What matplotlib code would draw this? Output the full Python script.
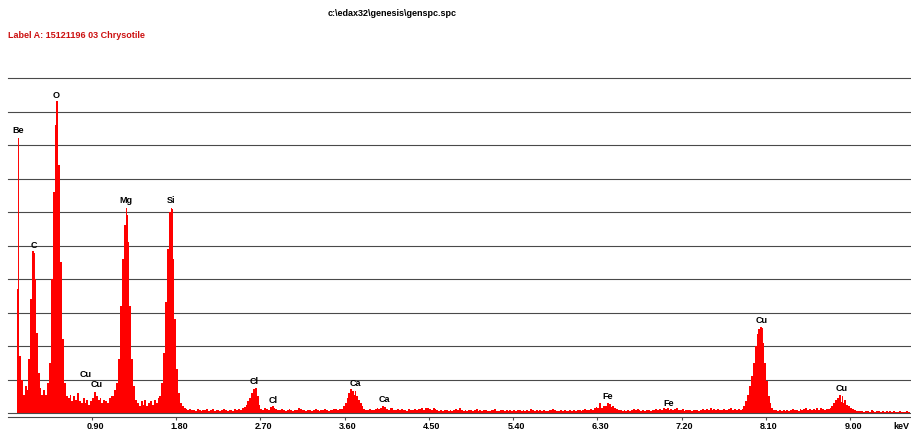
import numpy as np
from matplotlib import pyplot as plt
from matplotlib.transforms import ScaledTranslation

# spectrum counts, 0.02 keV channels starting at 0.10 keV (grid units)
start_kev = 0.10
channel_kev = 0.02

be_c_o = [3.7, 1.7, 1.0, 0.55, 0.8, 0.7, 1.6, 3.4, 4.85, 4.0,
          2.4, 1.2, 0.75, 0.55, 0.7, 0.55, 0.9, 1.5, 4.0, 6.6,
          8.6, 9.3, 7.4, 4.5, 2.2, 0.9, 0.5]
cu_l = [0.45, 0.55, 0.35, 0.5, 0.4, 0.6, 0.35, 0.3, 0.45, 0.3,
        0.4, 0.25, 0.35, 0.45, 0.62, 0.5, 0.4, 0.45, 0.3, 0.4,
        0.35, 0.3, 0.45, 0.5]
mg = [0.5, 0.7, 0.9, 1.6, 3.2, 4.6, 5.6, 5.9, 5.1, 3.2, 1.6, 0.8, 0.4]
mg_si_gap = [0.3, 0.2, 0.35, 0.25, 0.4, 0.2, 0.3, 0.35, 0.25, 0.4, 0.3, 0.45]
si = [0.5, 0.9, 1.8, 3.3, 4.9, 6.0, 6.1, 4.6, 2.8, 1.3, 0.6, 0.3, 0.2]
bg_si_cl = [0.15, 0.12, 0.1, 0.13, 0.08, 0.1, 0.07, 0.12, 0.09, 0.06,
            0.1, 0.08, 0.12, 0.07, 0.09, 0.11, 0.06, 0.08, 0.1, 0.07,
            0.09, 0.12, 0.08, 0.06, 0.1, 0.09, 0.07, 0.11, 0.08, 0.12,
            0.1, 0.14, 0.18]
cl = [0.25, 0.35, 0.45, 0.6, 0.72, 0.76, 0.5, 0.25, 0.12]
bg_cl_ca = [0.1, 0.14, 0.12, 0.09, 0.18, 0.2, 0.15, 0.12, 0.1, 0.08,
            0.12, 0.1, 0.07, 0.09, 0.11, 0.08, 0.06, 0.1, 0.09, 0.16,
            0.12, 0.1, 0.08, 0.07, 0.1, 0.09, 0.06, 0.08, 0.11, 0.09,
            0.07, 0.1, 0.08, 0.12, 0.09, 0.07, 0.1, 0.08, 0.11, 0.13,
            0.1, 0.12]
ca = [0.12, 0.2, 0.3, 0.45, 0.6, 0.72, 0.65, 0.55, 0.5, 0.4, 0.3, 0.2, 0.12]
bg_ca_fe = [0.1, 0.08, 0.12, 0.1, 0.09, 0.11, 0.14, 0.12, 0.15, 0.2,
            0.18, 0.12, 0.1, 0.14, 0.16, 0.1, 0.08, 0.11, 0.09, 0.12,
            0.08, 0.1, 0.07, 0.12, 0.09, 0.08, 0.11, 0.1, 0.13, 0.12,
            0.15, 0.1, 0.14, 0.16, 0.12, 0.09, 0.15, 0.11, 0.08, 0.07,
            0.09, 0.06, 0.08, 0.1, 0.07, 0.09, 0.06, 0.08, 0.11, 0.09,
            0.14, 0.1, 0.07, 0.08, 0.06, 0.09, 0.1, 0.07, 0.08, 0.11,
            0.07, 0.09, 0.06, 0.08, 0.1, 0.06, 0.07, 0.09, 0.08, 0.12,
            0.07, 0.06, 0.09, 0.08, 0.07, 0.1, 0.06, 0.08, 0.07, 0.09,
            0.06, 0.08, 0.1, 0.07, 0.09, 0.06, 0.08, 0.07, 0.11, 0.08,
            0.06, 0.09, 0.07, 0.08, 0.06, 0.1, 0.07, 0.06, 0.08, 0.09,
            0.12, 0.08, 0.06, 0.07, 0.09, 0.06, 0.08, 0.07, 0.05, 0.08,
            0.06, 0.09, 0.07, 0.08, 0.1, 0.07, 0.09, 0.11, 0.08, 0.1,
            0.12]
fe = [0.1, 0.14, 0.18, 0.15, 0.29, 0.16, 0.2, 0.22, 0.29, 0.28,
      0.18, 0.2, 0.14, 0.12, 0.1, 0.08]
bg_fe_cu = [0.07, 0.09, 0.06, 0.08, 0.07, 0.1, 0.13, 0.09, 0.12, 0.08,
            0.07, 0.09, 0.06, 0.08, 0.1, 0.07, 0.09, 0.08, 0.11, 0.1,
            0.12, 0.09, 0.14, 0.12, 0.15, 0.1, 0.13, 0.09, 0.11, 0.14,
            0.1, 0.08, 0.12, 0.07, 0.09, 0.08, 0.1, 0.07, 0.09, 0.08,
            0.1, 0.07, 0.09, 0.13, 0.08, 0.12, 0.1, 0.14, 0.09, 0.11,
            0.08, 0.12, 0.1, 0.09, 0.13, 0.1, 0.08, 0.11, 0.14, 0.1,
            0.12, 0.09, 0.11, 0.1]
cu_ka = [0.12, 0.2, 0.35, 0.55, 0.8, 1.1, 1.5, 2.0, 2.35, 2.5,
         2.58, 2.1, 1.5, 0.95, 0.5, 0.3, 0.15, 0.1]
bg_cu = [0.08, 0.06, 0.09, 0.07, 0.1, 0.06, 0.08, 0.07, 0.09, 0.11,
         0.08, 0.1, 0.07, 0.12, 0.09, 0.11, 0.16, 0.1, 0.13, 0.09,
         0.11, 0.08, 0.14, 0.1, 0.16, 0.12, 0.1, 0.13, 0.12]
cu_kb = [0.15, 0.22, 0.3, 0.38, 0.45, 0.54, 0.32, 0.3, 0.38, 0.25, 0.2, 0.15, 0.12]
bg_end = [0.08, 0.06, 0.07, 0.05, 0.06, 0.04, 0.06, 0.05, 0.04, 0.1,
          0.05, 0.04, 0.06, 0.05, 0.03, 0.05, 0.04, 0.06, 0.04, 0.05,
          0.03, 0.05, 0.04, 0.03, 0.05, 0.04, 0.03, 0.04, 0.05, 0.03]

peak_names = ['Be', 'C', 'O', 'Cu', 'Cu', 'Mg', 'Si', 'Cl', 'Cl', 'Ca', 'Ca',
              'Fe', 'Fe', 'Cu', 'Cu']
peak_kev = [0.112, 0.277, 0.52, 0.83, 0.953, 1.265, 1.747, 2.636, 2.833,
            3.709, 4.027, 6.41, 7.057, 8.054, 8.91]
label_heights = [8.42, 5.01, 9.47, 1.16, 0.84, 6.33, 6.33, 0.93, 0.36, 0.89,
                 0.41, 0.49, 0.29, 2.75, 0.72]
# main lines get a marker line up to the label
main_line = [True, True, True, False, False, True, True, True, False, True,
             False, True, False, True, True]

tick_kev = [0.9, 1.8, 2.7, 3.6, 4.5, 5.4, 6.3, 7.2, 8.1, 9.0]

counts = np.concatenate([be_c_o, cu_l, mg, mg_si_gap, si, bg_si_cl, cl, bg_cl_ca,
                         ca, bg_ca_fe, fe, bg_fe_cu, cu_ka, bg_cu, cu_kb, bg_end])
edges = start_kev + channel_kev * np.arange(len(counts) + 1)

plt.rcParams['font.family'] = ['Liberation Sans', 'DejaVu Sans']
plt.rcParams['font.weight'] = 'bold'

fig = plt.figure(figsize=(9.11, 4.33), dpi=100)
ax = fig.add_axes([7.8 / 911, 20 / 433, 902.2 / 911, 335 / 433])
ax.set_xlim(0, 9.64)
ax.set_ylim(0, 10)

grid_col = '#4a4a4a'
for g in range(11):
    ax.axhline(g, color=grid_col, lw=0.8, clip_on=False, zorder=1 if g else 3)

ax.stairs(counts, edges, fill=True, color='#ff0000', lw=0, zorder=2)

for name, e, h, m in zip(peak_names, peak_kev, label_heights, main_line):
    if m:
        ax.plot([e, e], [0, h - 0.22], color='#ff0000', lw=0.7, zorder=2)
    ax.text(e, h, name, ha='center', va='center', fontsize=6.5, color='black')

for s in ['left', 'right', 'top']:
    ax.spines[s].set_visible(False)
ax.spines['bottom'].set_position(('outward', 2.9))
ax.spines['bottom'].set_color(grid_col)
ax.spines['bottom'].set_linewidth(0.8)
ax.set_yticks([])
ax.set_xticks(tick_kev)
ax.set_xticklabels([f'{t:.2f}' for t in tick_kev])
ax.tick_params(axis='x', direction='out', length=2, width=0.8, color=grid_col,
               pad=1.5, labelsize=6.5)
for lab in ax.get_xticklabels():
    lab.set_transform(lab.get_transform() + ScaledTranslation(3 / 100, 0, fig.dpi_scale_trans))
fig.text(1 - 2 / 911, 1 - 426.5 / 433, 'keV', ha='right', va='center', fontsize=6.5)

fig.text(392 / 911, 1 - 13 / 433, 'c:\\edax32\\genesis\\genspc.spc', ha='center',
         va='center', fontsize=6.5, color='black')
fig.text(8 / 911, 1 - 36 / 433, 'Label A: 15121196 03 Chrysotile', ha='left',
         va='center', fontsize=6.5, color='#cc1010')

fig.savefig('out.png', dpi=100)
